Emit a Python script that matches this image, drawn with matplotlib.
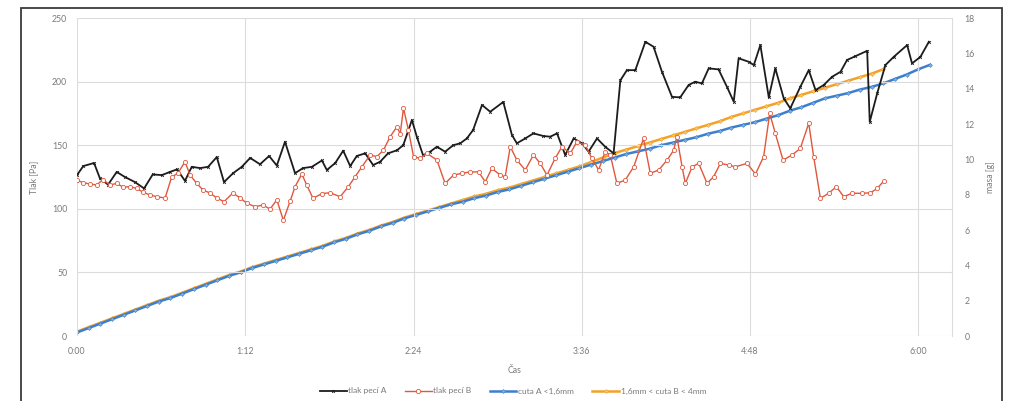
import matplotlib
matplotlib.use("Agg")
import matplotlib.pyplot as plt
from matplotlib.patches import Rectangle

plt.rcParams['font.family'] = ['Lato', 'DejaVu Sans']

# ---- data (time in minutes) ----
t_a = [0, 2.7, 7.3, 9.8, 13.3, 17.0, 20.5, 24.8, 28.7, 32.4, 36.3, 39.8, 42.8, 46.2, 49.1,
       52.7, 56.1, 59.8, 62.9, 66.8, 70.5, 74.1, 78.3, 82.2, 85.5, 89.0, 93.3, 96.7, 100.5,
       104.8, 106.9, 110.5, 113.9, 116.9, 119.7, 123.3, 126.7, 129.7, 133.1, 136.9, 139.6,
       143.3, 145.4, 148.1, 151.1, 154.0, 157.5, 161.0, 164.0, 166.8, 169.5, 173.3, 176.8,
       182.4, 186.1, 188.2, 191.8, 195.3, 199.6, 202.5, 205.4, 208.9, 212.5, 216.1, 218.9,
       222.5, 226.0, 229.6, 232.5, 235.3, 238.9, 243.2, 246.7, 250.3, 254.6, 258.1, 261.7,
       264.5, 267.4, 270.3, 274.5, 278.1, 281.0, 283.1, 287.4, 289.6, 292.4, 296.0, 298.8,
       302.4, 305.2, 309.5, 313.1, 316.0, 319.5, 323.1, 326.7, 329.5, 333.1, 338.1, 339.2,
       342.4, 345.9, 349.5, 355.2, 357.3, 360.9, 364.5]
p_a = [126.5, 133.6, 136, 124, 119, 129, 125, 121, 116, 127, 126.5, 129, 131, 122, 133,
       132, 133, 140.7, 121, 128, 133, 140, 135, 141.5, 134, 152.7, 128, 132, 133,
       138, 130.5, 136, 145.7, 133.6, 141.5, 143.6, 134.4, 137, 143.6, 146, 150,
       169.8, 156.7, 142, 144.9, 148.8, 144.9, 150, 151.5, 155.3, 162, 181.6, 176.3,
       184, 158, 151.5, 155.3, 159.3, 157.2, 156.7, 159.3, 142.3, 155.3, 151.5, 144.9,
       155.3, 148.8, 143.6, 201, 209, 209, 231.3, 227.4, 207.7, 188, 187.6, 197.3,
       199.9, 198.6, 210.4, 209.6, 195.9, 184.2, 218.3, 215.6, 213, 228.7, 187.6, 210.4,
       186.8, 179, 195.9, 209, 193.4, 197.3, 203.8, 207.7, 217, 220, 224.2, 168.4,
       190.8, 213, 219.5, 228.7, 214.3, 219.5, 231.3]

t_b = [0, 2.6, 5.6, 8.4, 11.1, 14.1, 17.0, 19.7, 22.7, 25.6, 28.3, 31.3, 34.2, 37.7, 40.5,
       43.2, 46.2, 48.4, 51.2, 53.9, 56.9, 59.8, 62.9, 66.7, 69.8, 72.6, 76.2, 79.5, 82.6,
       85.5, 88.3, 91.2, 93.3, 96.2, 98.3, 101.0, 104.8, 108.3, 112.6, 116.1, 119.0, 121.9,
       125.4, 128.3, 131.1, 134.0, 136.9, 138.3, 139.7, 141.8, 144.0, 146.8, 149.7, 154.0,
       157.5, 161.1, 164.7, 168.2, 171.8, 174.7, 177.5, 181.1, 183.2, 185.4, 188.2, 191.8,
       195.3, 198.2, 201.1, 204.6, 207.5, 211.1, 213.9, 217.5, 220.3, 223.2, 226.0, 228.2,
       231.0, 234.6, 238.2, 242.4, 245.3, 248.9, 252.5, 255.3, 256.7, 258.9, 260.3, 263.2,
       266.0, 269.6, 272.4, 275.3, 278.8, 281.7, 286.7, 290.3, 293.8, 296.4, 298.8, 302.1,
       306.0, 309.5, 313.1, 315.2, 318.1, 321.6, 324.9, 328.1, 331.6, 335.9, 339.5, 342.4,
       345.2]
p_b = [122.6, 120.5, 119.5, 118.7, 123, 118.7, 120, 117, 117.4, 116, 113, 110.8, 109.5, 108.5, 125,
       128, 137, 126.5, 120, 114.8, 112.4, 108.5, 105.6, 112.4, 108.5, 104.5, 101.6, 103, 99.8,
       107, 91, 106, 117.4, 127.3, 118.7, 108.2, 112, 112.6, 109.5, 117.4, 125.2, 133,
       142.3, 141, 146, 156.7, 164.5, 159, 179, 162, 141, 139.7, 143.6, 138.3,
       120, 126.5, 127.9, 129, 129, 121.3, 131.8, 126.5, 125.2, 148.8, 138.3, 130.5,
       142.3, 135.7, 126.5, 139.7, 148.8, 143.6, 152.7, 150, 139.7, 130.5, 144.9, 142.3,
       120, 122.6, 133, 155.3, 127.9, 130.5, 138.3, 146, 156.7, 133, 120, 133,
       135.7, 120, 125.2, 135.7, 134.4, 133, 135.7, 127.3, 141, 175, 159.3, 138.3,
       142.3, 147.5, 167.2, 141, 108.2, 112.2, 117.4, 109.5, 112.2, 112.2, 112.6, 116,
       121.8]

t_ma = list(range(0, 370, 5))
m_a = [0.2, 0.45, 0.7, 0.95, 1.2, 1.45, 1.7, 1.95, 2.15, 2.4, 2.65, 2.9, 3.15, 3.4, 3.6,
       3.85, 4.05, 4.25, 4.45, 4.65, 4.85, 5.05, 5.3, 5.5, 5.75, 5.95, 6.2, 6.4, 6.65, 6.85,
       7.05, 7.25, 7.45, 7.6, 7.8, 7.95, 8.15, 8.3, 8.5, 8.7, 8.9, 9.1, 9.3, 9.5, 9.7,
       9.9, 10.1, 10.3, 10.45, 10.6, 10.8, 10.95, 11.1, 11.25, 11.45, 11.6, 11.8, 11.95, 12.1,
       12.3, 12.5, 12.75, 12.95, 13.2, 13.45, 13.6, 13.75, 13.95, 14.1, 14.3, 14.55, 14.8,
       15.1, 15.35]

t_mb = list(range(0, 350, 5))
m_b = [0.25, 0.5, 0.75, 1.0, 1.25, 1.5, 1.75, 2.0, 2.2, 2.45, 2.7, 2.95, 3.2, 3.45, 3.65,
       3.9, 4.1, 4.3, 4.5, 4.7, 4.9, 5.1, 5.35, 5.55, 5.8, 6.0, 6.25, 6.45, 6.7, 6.9,
       7.1, 7.3, 7.5, 7.7, 7.9, 8.05, 8.25, 8.4, 8.6, 8.8, 9.0, 9.2, 9.4, 9.6, 9.85,
       10.1, 10.35, 10.55, 10.75, 10.95, 11.15, 11.35, 11.55, 11.75, 11.95, 12.15, 12.4, 12.6,
       12.8, 13.0, 13.2, 13.45, 13.65, 13.85, 14.05, 14.25, 14.45, 14.65, 14.85, 15.1]

x_ticks = [0, 72, 144, 216, 288, 360]
x_labels = ['0:00', '1:12', '2:24', '3:36', '4:48', '6:00']
names = ['tlak pecí A', 'tlak pecí B', 'cuta A <1,6mm', '1,6mm < cuta B < 4mm']

# ---- figure ----
W, H = 1009, 401
fig = plt.figure(figsize=(W / 100, H / 100), dpi=100)
fig.patches.append(Rectangle((21 / W, -0.05), (1002 - 21) / W, 1.05 - 8 / H,
                             transform=fig.transFigure, fill=False,
                             edgecolor='#3a3a3a', linewidth=1.3))
ax = fig.add_axes([77 / W, 1 - 336 / H, (952 - 77) / W, (336 - 18) / H])
ax2 = ax.twinx()

grid_c = '#dcdcdc'
lab_c = '#7a7a7a'
c_black = '#1c1c1c'
c_red = '#e0573c'
c_blue = '#3d7fcc'
c_orange = '#f4a127'

l1, = ax.plot(t_a, p_a, color=c_black, lw=1.3, marker='x', ms=2.0, mew=0.6, zorder=3)
l2, = ax.plot(t_b, p_b, color=c_red, lw=1.0, marker='o', ms=3, mfc='white',
              mec=c_red, mew=0.6, zorder=3)
l3, = ax2.plot(t_ma, m_a, color=c_blue, lw=1.8, marker='D', ms=2.0, mfc='#7fb0e6',
               mec=c_blue, mew=0.4, zorder=3)
l4, = ax2.plot(t_mb, m_b, color=c_orange, lw=1.8, marker='D', ms=2.0, mfc='#f8c470',
               mec=c_orange, mew=0.4, zorder=2)
ax.set_zorder(ax2.get_zorder() + 1)
ax.patch.set_visible(False)

ax.set_xlim(0, 374.4)
ax.set_ylim(0, 250)
ax2.set_ylim(0, 18)
ax.set_yticks(range(0, 251, 50))
ax2.set_yticks(range(0, 19, 2))
ax.set_xticks(x_ticks)
ax.set_xticklabels(x_labels)

ax.grid(True, color=grid_c, lw=0.8)
ax.set_axisbelow(True)
for a in (ax, ax2):
    for s in a.spines.values():
        s.set_visible(False)
    a.tick_params(length=0, labelsize=6.3, labelcolor=lab_c)
ax2.spines['right'].set_visible(True)
ax2.spines['right'].set_color(grid_c)
ax.tick_params(axis='x', pad=8)
ax.tick_params(axis='y', pad=7)
ax2.tick_params(axis='y', pad=9)

ax.set_ylabel('Tlak [Pa]', fontsize=6.3, color=lab_c, labelpad=10)
ax2.set_ylabel('masa [g]', fontsize=6.3, color=lab_c, labelpad=8)
ax.set_xlabel('Čas', fontsize=6.3, color=lab_c, labelpad=7)

fig.legend([l1, l2, l3, l4], names, loc='center', bbox_to_anchor=(513 / W, 1 - 391 / H),
           ncol=4, frameon=False, fontsize=6.0, labelcolor=lab_c, handlelength=3.2,
           columnspacing=2.2, handletextpad=0.2)

fig.savefig('out.png', dpi=100)
